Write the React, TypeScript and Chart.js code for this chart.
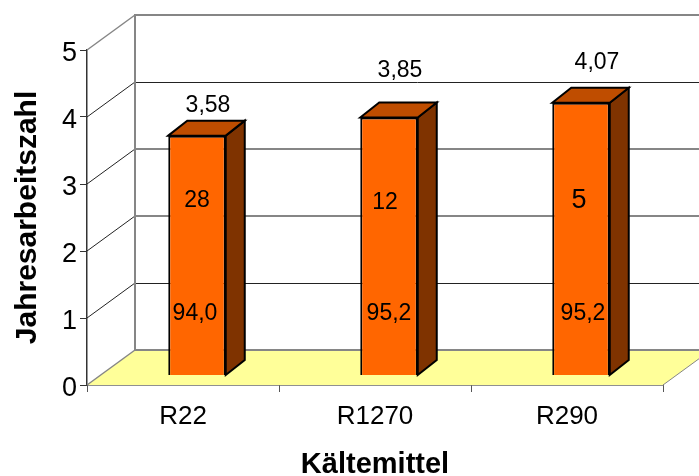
import React, { useEffect, useRef } from "react";
import { Chart, registerables } from "chart.js";

Chart.register(...registerables);

const categories = ["R22", "R1270", "R290"];
const jahresarbeitszahl = [3.58, 3.85, 4.07];
const valueLabels = ["3,58", "3,85", "4,07"];
const upperLabels = ["28", "12", "5"];
const lowerLabels = ["94,0", "95,2", "95,2"];
const upperLabelSizes = [23, 23, 27];
const yTicks = [0, 1, 2, 3, 4, 5];

const FONT = '"Liberation Sans", Arial, sans-serif';

// Oblique offset of the back wall relative to the front axis plane.
const WALL_DX = 48;
const WALL_DY = -35;
// Offset of the bars, which stand partway into the floor.
const BAR_DX = 14;
const BAR_DY = -9.5;
// Depth of each bar's top and side faces.
const DEPTH_DX = 19;
const DEPTH_DY = -15;

// Hand placement of the captions around each bar, in pixels from its centre.
const valueLabelDx = [11, 11, 16];
const valueLabelDy = [-30, -47, -40];
const upperLabelDx = [0, -4, -2];
const upperLabelDy = [1, 3, 1];
const lowerLabelDx = [-2, 0, 2];
const UPPER_LABEL_VALUE = 2.77;
const LOWER_LABEL_VALUE = 1.06;

const GRID_GREY = "#868686";
const GRID_DARK = "#222222";
const wallLineColors = [GRID_GREY, GRID_DARK, GRID_GREY, GRID_GREY, GRID_DARK, GRID_GREY];

const poly = (ctx: CanvasRenderingContext2D, pts: number[][]) => {
  ctx.beginPath();
  pts.forEach(([x, y], i) => (i ? ctx.lineTo(x, y) : ctx.moveTo(x, y)));
  ctx.closePath();
};

const line = (ctx: CanvasRenderingContext2D, x1: number, y1: number, x2: number, y2: number, color: string, width: number) => {
  ctx.strokeStyle = color;
  ctx.lineWidth = width;
  ctx.beginPath();
  ctx.moveTo(x1, y1);
  ctx.lineTo(x2, y2);
  ctx.stroke();
};

// Floor and walls behind the bars, then the bars' side and top faces.
const wallsPlugin = {
  id: "walls",
  beforeDatasetsDraw(chart: any) {
    const { ctx, scales, chartArea } = chart;
    const y0 = scales.y.getPixelForValue(0);
    const { left, right } = chartArea;
    ctx.save();
    ctx.lineCap = "butt";
    poly(ctx, [[left, y0], [right, y0], [right + WALL_DX, y0 + WALL_DY], [left + WALL_DX, y0 + WALL_DY]]);
    ctx.fillStyle = "#ffff99";
    ctx.fill();
    line(ctx, left, y0, left + WALL_DX, y0 + WALL_DY, GRID_GREY, 1.5);
    line(ctx, right, y0, right + WALL_DX, y0 + WALL_DY, GRID_GREY, 1);
    yTicks.forEach((v, i) => {
      const y = scales.y.getPixelForValue(v);
      const color = wallLineColors[i];
      const backY = y + WALL_DY;
      if (i > 0) line(ctx, left, y, left + WALL_DX, backY, i === 5 ? GRID_GREY : GRID_DARK, i === 5 ? 1.5 : 1);
      const dark = color === GRID_DARK;
      const py = dark ? Math.round(backY) + 0.5 : Math.round(backY);
      line(ctx, left + WALL_DX, py, right + WALL_DX, py, color, dark ? 1 : 2);
    });
    line(ctx, left + WALL_DX, scales.y.getPixelForValue(5) + WALL_DY - 1, left + WALL_DX, y0 + WALL_DY + 1, GRID_GREY, 2);
    ctx.restore();
    ctx.save();
    ctx.translate(BAR_DX, BAR_DY);
  },
  afterDatasetsDraw(chart: any) {
    const { ctx } = chart;
    const meta = chart.getDatasetMeta(0);
    ctx.lineJoin = "miter";
    meta.data.forEach((bar: any) => {
      const l = bar.x - bar.width / 2;
      const r = bar.x + bar.width / 2;
      const t = bar.y;
      const b = bar.base;
      ctx.lineWidth = 2;
      ctx.strokeStyle = "#000000";
      poly(ctx, [[r, t], [r + DEPTH_DX, t + DEPTH_DY], [r + DEPTH_DX, b + DEPTH_DY], [r, b]]);
      ctx.fillStyle = "#7f3300";
      ctx.fill();
      ctx.stroke();
      poly(ctx, [[l, t], [l + DEPTH_DX, t + DEPTH_DY], [r + DEPTH_DX, t + DEPTH_DY], [r, t]]);
      ctx.fillStyle = "#bf4d00";
      ctx.fill();
      ctx.stroke();
    });
    ctx.restore();

    // Value captions: one above each bar, two on its front face.
    const yScale = chart.scales.y;
    ctx.save();
    ctx.fillStyle = "#000000";
    ctx.textAlign = "center";
    ctx.textBaseline = "middle";
    meta.data.forEach((bar: any, i: number) => {
      const cx = bar.x + BAR_DX;
      ctx.font = `23px ${FONT}`;
      ctx.fillText(valueLabels[i], cx + valueLabelDx[i], bar.y + BAR_DY + valueLabelDy[i]);
      ctx.fillText(lowerLabels[i], cx + lowerLabelDx[i], yScale.getPixelForValue(LOWER_LABEL_VALUE));
      ctx.font = `${upperLabelSizes[i]}px ${FONT}`;
      ctx.fillText(upperLabels[i], cx + upperLabelDx[i], yScale.getPixelForValue(UPPER_LABEL_VALUE) + upperLabelDy[i]);
    });
    ctx.restore();
  },
};

export default function App() {
  const ref = useRef<HTMLCanvasElement>(null);

  useEffect(() => {
    const chart = new Chart(ref.current!, {
      type: "bar",
      data: {
        labels: categories,
        datasets: [
          {
            data: jahresarbeitszahl,
            backgroundColor: "#ff6600",
            borderColor: "#000000",
            borderWidth: 2,
            categoryPercentage: 1,
            barPercentage: 57.5 / 192,
          },
        ],
      },
      options: {
        responsive: false,
        animation: false,
        layout: { padding: { left: 10, right: 36, top: 50, bottom: 0 } },
        plugins: { legend: { display: false }, tooltip: { enabled: false } },
        scales: {
          x: {
            grid: { drawOnChartArea: false, color: GRID_GREY, tickLength: 7, tickColor: "#555555" },
            border: { color: "#222222", width: 1.5 },
            ticks: { color: "#000000", font: { family: FONT, size: 26 }, padding: 9, maxRotation: 0 },
            title: { display: true, text: "Kältemittel", color: "#000000", font: { family: FONT, size: 29, weight: "bold" }, padding: { top: 0, bottom: -6 } },
            afterFit(scale: any) {
              scale.height = 91;
            },
          },
          y: {
            min: 0,
            max: 5,
            grid: { drawOnChartArea: false, tickLength: 7, tickColor: "#333333" },
            border: { color: "#333333", width: 1.5 },
            ticks: { stepSize: 1, color: "#000000", font: { family: FONT, size: 27 }, padding: 3, labelOffset: 4 },
            title: { display: true, text: "Jahresarbeitszahl", color: "#000000", font: { family: FONT, size: 30, weight: "bold" }, padding: { top: 0, bottom: 0 } },
            afterFit(scale: any) {
              scale.width = 77;
            },
          },
        },
      },
      plugins: [wallsPlugin],
    } as any);
    return () => chart.destroy();
  }, []);

  return (
    <div style={{ position: "absolute", left: 0, top: 0 }}>
      <canvas ref={ref} width={699} height={476} style={{ display: "block" }} />
    </div>
  );
}
